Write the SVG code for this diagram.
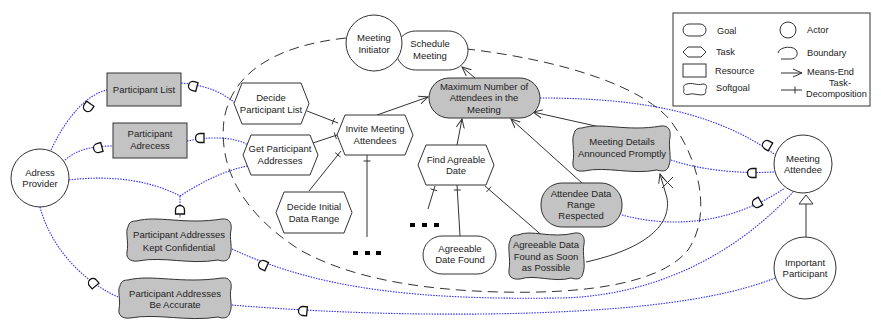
<svg xmlns="http://www.w3.org/2000/svg" width="881" height="323" viewBox="0 0 881 323">
  <style>
    text { font-family: "Liberation Sans", Arial, sans-serif; font-size: 9.5px; fill: #222; text-anchor: middle; }
    .lg { text-anchor: start; font-size: 9.2px; }
    .sh { fill: #fff; stroke: #333; stroke-width: 1; }
    .gr { fill: #c3c3c3; stroke: #333; stroke-width: 1; }
    .dep { fill: none; stroke: #3030f0; stroke-width: 1.1; stroke-dasharray: 1.5 1.2; }
    .ln { fill: none; stroke: #333; stroke-width: 1; }
    .me { fill: none; stroke: #333; stroke-width: 1; marker-end: url(#arr); }
    .bnd { fill: none; stroke: #333; stroke-width: 1; stroke-dasharray: 10 6; }
    .dsym { fill: #fff; stroke: #111; stroke-width: 1.3; }
    .dot { fill: #000; }
  </style>
  <defs>
    <marker id="arr" viewBox="0 0 10 10" refX="9" refY="5" markerWidth="10" markerHeight="10" markerUnits="userSpaceOnUse" orient="auto">
      <path d="M0,1 L9,5 L0,9" fill="none" stroke="#333" stroke-width="1"/>
    </marker>
    <path id="D" class="dsym" d="M -4,-4.5 L 0,-4.5 A 4.5,4.5 0 0 1 0,4.5 L -4,4.5 Z"/>
  </defs>

  <!-- actor boundary -->
  <path id="boundary" class="bnd" d="M 346,38 C 280,45 232,70 224,120 C 218,170 245,215 300,250 C 350,278 420,290 500,292 C 580,294 660,285 688,250 C 712,215 700,160 670,120 C 640,85 560,60 467,49"/>

  <g id="connectors">
    <!-- dependencies -->
    <path class="dep" d="M 51,150 C 65,120 85,95 107,90"/>
    <path class="dep" d="M 181,83 C 205,85 222,92 235,103"/>
    <path class="dep" d="M 63,162 C 75,150 90,146 113,146"/>
    <path class="dep" d="M 187,141 C 210,136 235,137 248,145"/>
    <path class="dep" d="M 69,180 C 110,175 150,180 180,196"/>
    <path class="dep" d="M 180,196 C 200,183 225,170 248,166"/>
    <path class="dep" d="M 180,196 L 180,218"/>
    <path class="dep" d="M 232,249 C 320,290 420,300 560,298 C 660,296 740,250 793,192"/>
    <path class="dep" d="M 232,305 C 350,315 500,318 620,308 C 690,302 740,292 775,278"/>
    <path class="dep" d="M 40,207 C 50,245 80,280 118,297"/>
    <path class="dep" d="M 540,98 C 650,98 720,115 777,156"/>
    <path class="dep" d="M 671,160 C 700,170 740,174 774,172"/>
    <path class="dep" d="M 622,215 C 670,228 730,225 785,188"/>

    <!-- dependency marks -->
    <use href="#D" transform="translate(88,107) rotate(125)"/>
    <use href="#D" transform="translate(193,86) rotate(195)"/>
    <use href="#D" transform="translate(98,148) rotate(165)"/>
    <use href="#D" transform="translate(200,138) rotate(180)"/>
    <use href="#D" transform="translate(180,210) rotate(-90)"/>
    <use href="#D" transform="translate(263,265) rotate(205)"/>
    <use href="#D" transform="translate(93,283) rotate(230)"/>
    <use href="#D" transform="translate(303,311) rotate(185)"/>
    <use href="#D" transform="translate(767,145) rotate(210)"/>
    <use href="#D" transform="translate(752,173) rotate(180)"/>
    <use href="#D" transform="translate(757,203) rotate(150)"/>

    <!-- means-end links -->
    <path class="me" d="M 475,78 L 462,67"/>
    <path class="me" d="M 377,115 L 428,97"/>
    <path class="me" d="M 457,145 L 462,119"/>
    <path class="me" d="M 582,183 L 511,119"/>
    <path class="me" d="M 600,127 L 533,112"/>
    <path class="me" d="M 586,262 C 640,250 672,228 667,198 L 660,174"/>
    <path class="ln" d="M 662,177 L 673,188 M 673,177 L 662,188"/>

    <!-- task decompositions -->
    <path class="ln" d="M 307,111 L 338,123 M 332,124.5 L 334.6,117.9"/>
    <path class="ln" d="M 313,143 L 340,134 M 336.4,138.9 L 334.2,132.3"/>
    <path class="ln" d="M 309,191 L 341,151 M 340.6,157.1 L 335.2,152.7"/>
    <path class="ln" d="M 367,237 L 367,155 M 363.5,161 L 370.5,161"/>
    <path class="ln" d="M 428,209 L 435,186 M 437.2,190.8 L 430.4,188.8"/>
    <path class="ln" d="M 460,236 L 457,185 M 453.8,190 L 460.8,190"/>
    <path class="ln" d="M 545,238 L 485,186 M 491.1,186.7 L 486.5,191.9"/>

    <!-- is-a -->
    <path class="ln" d="M 806,237 L 806,204"/>
    <path class="sh" d="M 799,204 L 813,204 L 806,195 Z"/>
  </g>

  <!-- elided elements -->
  <g id="more1">
    <rect class="dot" x="353" y="251" width="5" height="4"/>
    <rect class="dot" x="365" y="251" width="5" height="4"/>
    <rect class="dot" x="376" y="251" width="5" height="4"/>
  </g>
  <g id="more2">
    <rect class="dot" x="410" y="223" width="5" height="4"/>
    <rect class="dot" x="422" y="223" width="5" height="4"/>
    <rect class="dot" x="434" y="223" width="5" height="4"/>
  </g>

  <g id="adress-provider">
    <circle class="sh" cx="40" cy="178" r="29"/>
    <text x="40" y="175.5">Adress</text>
    <text x="40" y="187">Provider</text>
  </g>

  <g id="participant-list">
    <rect class="gr" x="107" y="73" width="74" height="33"/>
    <text x="144" y="93">Participant List</text>
  </g>

  <g id="participant-adrecess">
    <rect class="gr" x="113" y="123" width="74" height="35"/>
    <text x="150" y="137">Participant</text>
    <text x="150" y="149">Adrecess</text>
  </g>

  <g id="schedule-meeting">
    <rect class="sh" x="396" y="31" width="72" height="39" rx="19.5"/>
    <text x="430" y="46.5">Schedule</text>
    <text x="430" y="58.5">Meeting</text>
  </g>

  <g id="meeting-initiator">
    <circle class="sh" cx="374" cy="43" r="28"/>
    <text x="374" y="40.5">Meeting</text>
    <text x="374" y="52.5">Initiator</text>
  </g>

  <g id="max-attendees">
    <rect class="gr" x="429" y="78" width="111" height="40" rx="20"/>
    <text x="484" y="89.5">Maximum Number of</text>
    <text x="484" y="101">Attendees in the</text>
    <text x="484" y="112.5">Meeting</text>
  </g>

  <g id="decide-participant-list">
    <path class="sh" d="M 234,103.5 L 242,83 L 301,83 L 309,103.5 L 301,124 L 242,124 Z"/>
    <text x="271" y="101">Decide</text>
    <text x="271" y="113">Participant List</text>
  </g>

  <g id="get-participant-addresses">
    <path class="sh" d="M 243,155 L 251,135 L 310,135 L 318,155 L 310,175 L 251,175 Z"/>
    <text x="280" y="152">Get Participant</text>
    <text x="280" y="164">Addresses</text>
  </g>

  <g id="invite-meeting-attendees">
    <path class="sh" d="M 337,135 L 345,115 L 405,115 L 413,135 L 405,155 L 345,155 Z"/>
    <text x="375" y="131.5">Invite Meeting</text>
    <text x="375" y="143.5">Attendees</text>
  </g>

  <g id="decide-initial-data-range">
    <path class="sh" d="M 276,212.5 L 284,192 L 344,192 L 352,212.5 L 344,233 L 284,233 Z"/>
    <text x="314" y="209.5">Decide Initial</text>
    <text x="314" y="221.5">Data Range</text>
  </g>

  <g id="find-agreable-date">
    <path class="sh" d="M 418,165 L 426,145 L 486,145 L 494,165 L 486,185 L 426,185 Z"/>
    <text x="456" y="162.5">Find Agreable</text>
    <text x="456" y="174">Date</text>
  </g>

  <g id="agreeable-date-found">
    <rect class="sh" x="423" y="236" width="73" height="38" rx="19"/>
    <text x="460" y="251.5">Agreeable</text>
    <text x="460" y="262.5">Date Found</text>
  </g>

  <g id="attendee-data-range">
    <rect class="gr" x="541" y="183" width="81" height="44" rx="21"/>
    <text x="581" y="196.5">Attendee Data</text>
    <text x="581" y="207.5">Range</text>
    <text x="581" y="218.5">Respected</text>
  </g>

  <g id="agreeable-data-soon">
    <path class="gr" d="M 518,235 C 531.1,229 550.4,239 575,233 C 583,232 585,238 584,244 C 582,253.6 586,265.6 583,273 C 582,279 577,280 571,278 C 554.2,283 535,274 520,279 C 512,280 508,276 509,270 C 511,258.4 507,246.4 510,241 C 511,236 514,235 518,235 Z"/>
    <text x="546" y="247.5">Agreeable Data</text>
    <text x="546" y="259.5">Found as Soon</text>
    <text x="546" y="270.5">as Possible</text>
  </g>

  <g id="meeting-details">
    <path class="gr" d="M 582,128 C 601.7,122 626.5,132 661,126 C 669,125 671,131 670,137 C 668,146.2 672,157.9 669,165 C 668,171 663,172 657,170 C 631.4,175 606.7,166 584,171 C 576,172 572,168 573,162 C 575,150.9 571,139.1 574,134 C 575,129 578,128 582,128 Z"/>
    <text x="622" y="144.5">Meeting Details</text>
    <text x="622" y="156.5">Announced Promptly</text>
  </g>

  <g id="meeting-attendee">
    <circle class="sh" cx="803" cy="164" r="29"/>
    <text x="803" y="161.5">Meeting</text>
    <text x="803" y="172.5">Attendee</text>
  </g>

  <g id="important-participant">
    <circle class="sh" cx="805" cy="268" r="31"/>
    <text x="805" y="265.5">Important</text>
    <text x="805" y="276.5">Participant</text>
  </g>

  <g id="kept-confidential">
    <path class="gr" d="M 136,221 C 157.8,215 184.3,225 222,219 C 230,218 232,224 231,230 C 229,237.8 233,248.8 230,255 C 229,261 224,262 218,260 C 189.6,265 163.1,256 138,261 C 130,262 126,258 127,252 C 129,242.2 125,231.2 128,227 C 129,222 132,221 136,221 Z"/>
    <text x="179" y="237.5">Participant Addresses</text>
    <text x="179" y="250.5">Kept Confidential</text>
  </g>

  <g id="be-accurate">
    <path class="gr" d="M 128,280 C 152.2,274 180.7,284 222,278 C 230,277 232,283 231,289 C 229,295.9 233,306.4 230,312 C 229,318 224,319 218,317 C 186.4,322 157.9,313 130,318 C 122,319 118,315 119,309 C 121,300.1 117,289.6 120,286 C 121,281 124,280 128,280 Z"/>
    <text x="175" y="296.5">Participant Addresses</text>
    <text x="175" y="307.5">Be Accurate</text>
  </g>

  <!-- key -->
  <g id="legend">
    <rect x="673" y="13" width="197" height="93" fill="#fff" stroke="#333" stroke-width="1"/>
    <rect class="sh" x="683" y="24" width="23" height="12" rx="6"/>
    <text class="lg" x="717" y="33.5">Goal</text>
    <path class="sh" d="M 683,52 L 688,47 L 701,47 L 706,52 L 701,57 L 688,57 Z"/>
    <text class="lg" x="716" y="54.5">Task</text>
    <rect class="sh" x="683" y="64" width="23" height="13"/>
    <text class="lg" x="715" y="74">Resource</text>
    <path class="sh" d="M 687,84 C 692,82 697,86 703,84 C 707,84 707,87 706,89 C 705,91 707,93 704,94.5 C 698,96 694,92.5 688,94.5 C 684,95 683,92 684,90 C 684,88 682,85 687,84 Z"/>
    <text class="lg" x="716" y="90.5">Softgoal</text>
    <circle class="sh" cx="788" cy="30" r="8"/>
    <text class="lg" x="807" y="32.5">Actor</text>
    <path class="ln" d="M 778,53 C 779,46 796,45 797,52 C 798,57 794,59 790,59 L 781,59"/>
    <text class="lg" x="807" y="55.5">Boundary</text>
    <path class="me" d="M 781,73 L 802,73"/>
    <text class="lg" x="807" y="74.5">Means-End</text>
    <path class="ln" d="M 781,90 L 802,90 M 795,86.5 L 795,93.5"/>
    <text class="lg" x="829" y="85.5">Task-</text>
    <text class="lg" x="806" y="97">Decomposition</text>
  </g>
</svg>
